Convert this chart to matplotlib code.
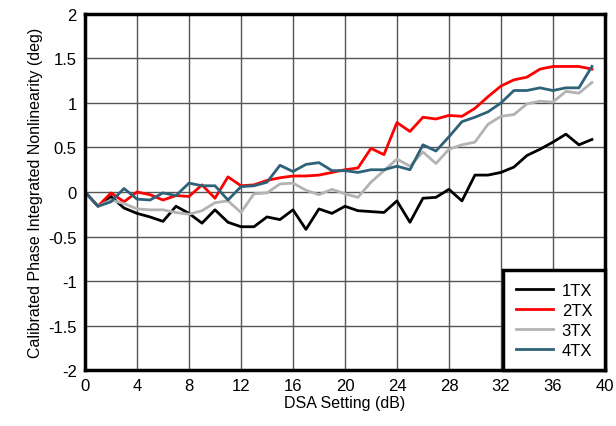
#!/usr/bin/env python3
"""Calibrated phase INL vs DSA setting."""

import matplotlib
matplotlib.use("Agg")
import matplotlib.pyplot as plt

plt.rcParams["font.family"] = ["Liberation Sans", "DejaVu Sans"]

dsa = list(range(40))

tx1 = [0, -0.16, -0.05, -0.18, -0.24, -0.28, -0.33, -0.16, -0.24, -0.35,
       -0.20, -0.34, -0.39, -0.39, -0.28, -0.31, -0.20, -0.42, -0.19, -0.24,
       -0.16, -0.21, -0.22, -0.23, -0.10, -0.34, -0.07, -0.06, 0.03, -0.10,
       0.19, 0.19, 0.22, 0.28, 0.41, 0.48, 0.56, 0.65, 0.53, 0.59]
tx2 = [0, -0.16, -0.01, -0.11, 0.00, -0.03, -0.09, -0.04, -0.05, 0.08,
       -0.07, 0.17, 0.07, 0.08, 0.13, 0.16, 0.18, 0.18, 0.19, 0.22,
       0.25, 0.27, 0.49, 0.42, 0.78, 0.68, 0.84, 0.82, 0.86, 0.85,
       0.94, 1.07, 1.19, 1.26, 1.29, 1.38, 1.41, 1.41, 1.41, 1.38]
tx3 = [0, -0.16, -0.09, -0.13, -0.19, -0.20, -0.20, -0.23, -0.25, -0.21,
       -0.12, -0.10, -0.23, -0.02, -0.01, 0.09, 0.10, 0.02, -0.03, 0.03,
       -0.02, -0.06, 0.11, 0.24, 0.37, 0.29, 0.45, 0.32, 0.48, 0.53,
       0.56, 0.76, 0.85, 0.87, 0.99, 1.02, 1.01, 1.13, 1.11, 1.23]
tx4 = [0, -0.16, -0.11, 0.04, -0.08, -0.09, -0.01, -0.04, 0.10, 0.07,
       0.07, -0.09, 0.06, 0.07, 0.11, 0.30, 0.23, 0.31, 0.33, 0.24,
       0.24, 0.22, 0.25, 0.25, 0.29, 0.25, 0.53, 0.46, 0.62, 0.79,
       0.84, 0.90, 1.00, 1.14, 1.14, 1.17, 1.14, 1.17, 1.17, 1.41]

series = [("1TX", tx1, "#000000"), ("2TX", tx2, "#ff0000"),
          ("3TX", tx3, "#b3b3b3"), ("4TX", tx4, "#2e6279")]

fig = plt.figure(figsize=(6.16, 4.27), dpi=100)
ax = fig.add_axes([0.138, 0.131, 0.844, 0.834])

for label, y, c in series:
    ax.plot(dsa, y, color=c, lw=2, label=label)

ax.set_xlim(0, 40)
ax.set_ylim(-2, 2)
ax.set_xticks(range(0, 41, 4))
ax.set_yticks([-2, -1.5, -1, -0.5, 0, 0.5, 1, 1.5, 2])
ax.set_yticklabels(["-2", "-1.5", "-1", "-0.5", "0", "0.5", "1", "1.5", "2"])
ax.tick_params(length=0, labelsize=12, pad=6)
ax.grid(True, color="#555555", lw=1)
ax.set_axisbelow(True)
for s in ax.spines.values():
    s.set_linewidth(2.5)

ax.set_xlabel("DSA Setting (dB)", fontsize=11.5, labelpad=1)
ax.set_ylabel("Calibrated Phase Integrated Nonlinearity (deg)", fontsize=11.5, labelpad=4)

leg = ax.legend(loc="lower right", fontsize=12, frameon=True, fancybox=False,
                borderaxespad=0, handlelength=2.2, labelspacing=0.3,
                borderpad=0.75, handletextpad=0.55)
leg.get_frame().set_edgecolor("black")
leg.get_frame().set_linewidth(2.5)
leg.get_frame().set_alpha(1)

fig.savefig("out.png", dpi=100)
